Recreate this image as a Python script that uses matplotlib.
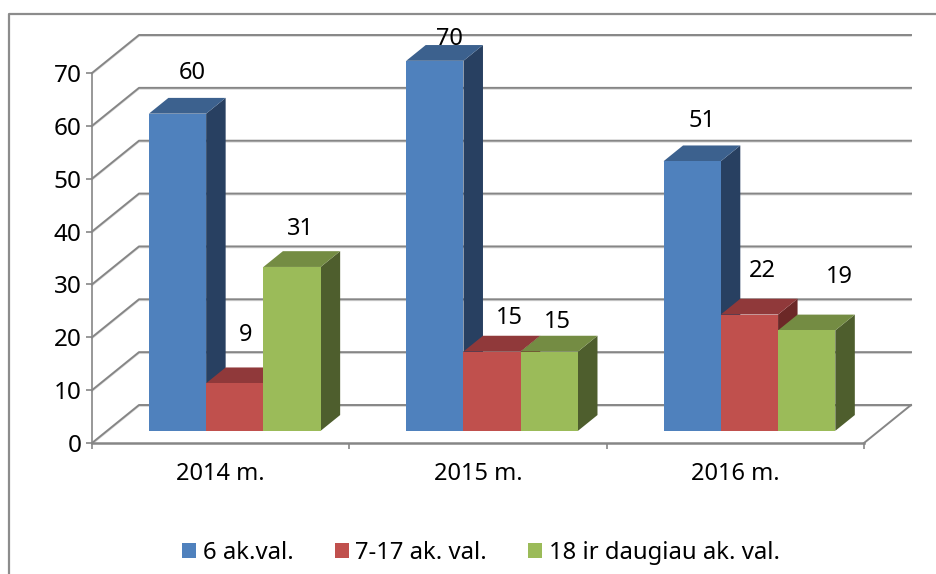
import matplotlib
matplotlib.use('Agg')
import matplotlib.pyplot as plt
from matplotlib.patches import Patch
from matplotlib.lines import Line2D

plt.rcParams['font.family'] = ['Noto Sans', 'DejaVu Sans']

categories = ['2014 m.', '2015 m.', '2016 m.']
series_names = ['6 ak.val.', '7-17 ak. val.', '18 ir daugiau ak. val.']
young = [60, 70, 51]
middle = [9, 15, 22]
older = [31, 15, 19]
y_ticks = [0, 10, 20, 30, 40, 50, 60, 70]

# front, top, side
blue = ('#4f81bd', '#3c618e', '#284061')
red = ('#c0504d', '#90393a', '#6c2827')
green = ('#9bbb59', '#748c43', '#4e5e2d')

# depth of the fake 3d box, in data units
DX = 47 / (772 / 3)
DY = 38 / (370 / 70)
BAR_W = 0.2225
D0, D1 = 0.30, 0.715
GRID = '#868686'

fig = plt.figure(figsize=(9.37, 5.74), dpi=100)
ax = fig.add_axes([92 / 937, (574 - 443) / 574, 772 / 937, 370 / 574])
ax.set_xlim(0, 3)
ax.set_ylim(0, 70)
ax.patch.set_visible(False)

# chart border, only top and left show in the crop
fig.add_artist(Line2D([9 / 937, 9 / 937, 1], [0, 1 - 14 / 574, 1 - 14 / 574],
                      color='#8c8c8c', lw=1.6))

# back wall and floor
for v in y_ticks:
    ax.plot([0, DX, 3 + DX], [v, v + DY, v + DY], color='#d9d9d9', lw=1.0,
            clip_on=False, zorder=1, transform=ax.transData + matplotlib.transforms.Affine2D().translate(0, -1.2))
    ax.plot([0, DX, 3 + DX], [v, v + DY, v + DY], color=GRID, lw=1.4, clip_on=False, zorder=1)
ax.plot([3, 3 + DX], [0, DY], color=GRID, lw=1.4, clip_on=False, zorder=1)

for s in ['top', 'right']:
    ax.spines[s].set_visible(False)
for s in ['left', 'bottom']:
    ax.spines[s].set_color(GRID)
ax.spines['left'].set_linewidth(1.2)
ax.spines['bottom'].set_linewidth(1.8)

ax.set_yticks(y_ticks)
ax.set_xticks([0, 1, 2, 3])
ax.set_xticklabels([])
ax.set_xticks([0.5, 1.5, 2.5], minor=True)
ax.set_xticklabels(categories, minor=True, fontsize=17)
ax.tick_params(axis='x', which='minor', length=0, pad=14, colors='black')
ax.tick_params(axis='x', which='major', length=4, width=1.2, color=GRID)
ax.tick_params(axis='y', length=4, width=1.2, color=GRID, labelsize=17.5, pad=3.5, labelcolor='black')

# label shift from the front top centre of each bar, px
label_dx = [[15, 11, 8], [15, 17, 8], [10, 13, 33]]
label_dy = [[41, 48, 38], [22, 34, 30], [40, 44, 53]]

for i in range(len(categories)):
    for j, (vals, cols) in enumerate(zip([young, middle, older], [blue, red, green])):
        v = vals[i]
        left = i + 0.5 + D0 * DX + (j - 1.5) * BAR_W
        right = left + BAR_W
        base = D0 * DY + 0.15
        dx = (D1 - D0) * DX
        dy = (D1 - D0) * DY
        z = 3 + i + j * 0.1
        ax.fill([right, right + dx, right + dx, right],
                [base, base + dy, base + v + dy, base + v],
                color=cols[2], lw=0, zorder=z, clip_on=False)
        ax.fill([left, right, right + dx, left + dx],
                [base + v, base + v, base + v + dy, base + v + dy],
                color=cols[1], lw=0, zorder=z, clip_on=False)
        ax.bar(left, v, BAR_W, bottom=base, align='edge', color=cols[0], lw=0, zorder=z, clip_on=False)
        ax.annotate(str(v), (left + BAR_W / 2, base + v), xytext=(label_dx[i][j] * 0.72, label_dy[i][j] * 0.72),
                    textcoords='offset points', ha='center', va='center', fontsize=17,
                    zorder=10, annotation_clip=False)

handles = [Patch(color=c[0], lw=0) for c in [blue, red, green]]
fig.legend(handles, series_names, loc='center', bbox_to_anchor=(481 / 937, 1 - 553 / 574), ncol=3,
           frameon=False, fontsize=17.2, handlelength=0.586, handleheight=0.586, handletextpad=0.29,
           columnspacing=1.72, borderpad=0)

fig.savefig('out.png', dpi=100)
